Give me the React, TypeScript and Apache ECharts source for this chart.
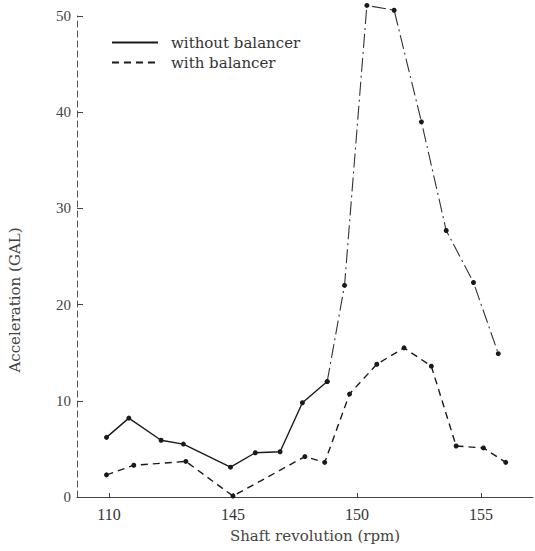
import React, { useEffect, useRef } from "react";
import * as echarts from "echarts";

// Shaft revolution (rpm) and acceleration (GAL)
const rpmWithout = [139.9, 140.8, 142.1, 143.0, 144.9, 145.9, 146.9, 147.8, 148.8, 149.5, 150.4, 151.5, 152.6, 153.6, 154.7, 155.7];
const accWithout = [6.2, 8.2, 5.9, 5.5, 3.1, 4.6, 4.7, 9.8, 12.0, 22.0, 51.1, 50.6, 39.0, 27.7, 22.3, 14.9];
const rpmWith = [139.9, 141.0, 143.1, 145.0, 147.9, 148.7, 149.7, 150.8, 151.9, 153.0, 154.0, 155.1, 156.0];
const accWith = [2.3, 3.3, 3.7, 0.1, 4.2, 3.6, 10.7, 13.8, 15.5, 13.6, 5.3, 5.1, 3.6];

const xTickValues = [140, 145, 150, 155];
const xTickLabels = ["110", "145", "150", "155"];
const yTickValues = [0, 10, 20, 30, 40, 50];

const seriesNames = ["without balancer", "with balancer"];
const xTitle = "Shaft revolution (rpm)";
const yTitle = "Acceleration (GAL)";

const SERIF = "Liberation Serif";
const WIDE_SERIF = "DejaVu Serif";
const INK = "#1a1a1a";

function pairs(xs: number[], ys: number[]) {
  return xs.map((x, i) => [x, ys[i]]);
}

export default function App() {
  const ref = useRef<HTMLDivElement>(null);
  useEffect(() => {
    if (!ref.current) return;
    const chart = echarts.init(ref.current, null, { renderer: "svg" });
    const withoutPts = pairs(rpmWithout, accWithout);
    const withPts = pairs(rpmWith, accWith);
    chart.setOption({
      animation: false,
      backgroundColor: "#ffffff",
      grid: { left: 77, right: 2, top: 16, bottom: 54 },
      legend: {
        orient: "vertical",
        left: 111,
        top: 35,
        padding: 0,
        itemWidth: 46,
        itemHeight: 14,
        itemGap: 5,
        data: seriesNames,
        itemStyle: { opacity: 0 },
        textStyle: { fontFamily: WIDE_SERIF, fontSize: 15, color: "#333", padding: [0, 0, 0, 8] },
      },
      xAxis: {
        type: "value",
        min: 138.71,
        max: 157.1,
        splitLine: { show: false },
        axisLine: { lineStyle: { color: "#444", width: 1 } },
        axisTick: {
          inside: true,
          length: 4,
          customValues: xTickValues,
          lineStyle: { color: "#444" },
        },
        axisLabel: {
          customValues: xTickValues,
          margin: 9,
          fontFamily: SERIF,
          fontSize: 16,
          color: "#333",
          formatter: (v: number) => {
            const i = xTickValues.indexOf(Math.round(v));
            return i >= 0 ? xTickLabels[i] : "";
          },
        },
      },
      yAxis: {
        type: "value",
        min: 0,
        max: 50,
        interval: 10,
        splitLine: { show: false },
        axisLine: { show: true, lineStyle: { color: "#555", width: 1, type: [6, 4] } },
        axisTick: {
          show: true,
          inside: true,
          length: 6,
          customValues: yTickValues,
          lineStyle: { color: "#444" },
        },
        axisLabel: {
          margin: 6,
          fontFamily: SERIF,
          fontSize: 15,
          color: "#444",
        },
      },
      graphic: [
        {
          type: "text",
          x: 15,
          y: 300,
          rotation: Math.PI / 2,
          style: {
            text: yTitle,
            fontFamily: WIDE_SERIF,
            fontSize: 15,
            fill: "#444",
            align: "center",
            verticalAlign: "middle",
          },
        },
        {
          type: "text",
          x: 315,
          y: 536,
          style: {
            text: xTitle,
            fontFamily: WIDE_SERIF,
            fontSize: 15,
            fill: "#444",
            align: "center",
            verticalAlign: "middle",
          },
        },
      ],
      series: [
        {
          name: seriesNames[0],
          type: "line",
          clip: false,
          data: withoutPts.slice(0, 9),
          symbol: "circle",
          symbolSize: 5,
          itemStyle: { color: INK },
          lineStyle: { color: INK, width: 1.4, type: "solid" },
        },
        {
          name: seriesNames[0],
          type: "line",
          clip: false,
          data: withoutPts.slice(8),
          symbol: "circle",
          symbolSize: 5,
          itemStyle: { color: INK },
          lineStyle: { color: "#333", width: 1.1, type: [14, 4, 2, 4] },
        },
        {
          name: seriesNames[1],
          type: "line",
          clip: false,
          data: withPts,
          symbol: "circle",
          symbolSize: 5,
          itemStyle: { color: INK },
          lineStyle: { color: INK, width: 1.4, type: [7, 5] },
        },
      ],
    });
    return () => chart.dispose();
  }, []);
  return (
    <div
      ref={ref}
      style={{ position: "absolute", left: 0, top: 0, width: 535, height: 551 }}
    />
  );
}
